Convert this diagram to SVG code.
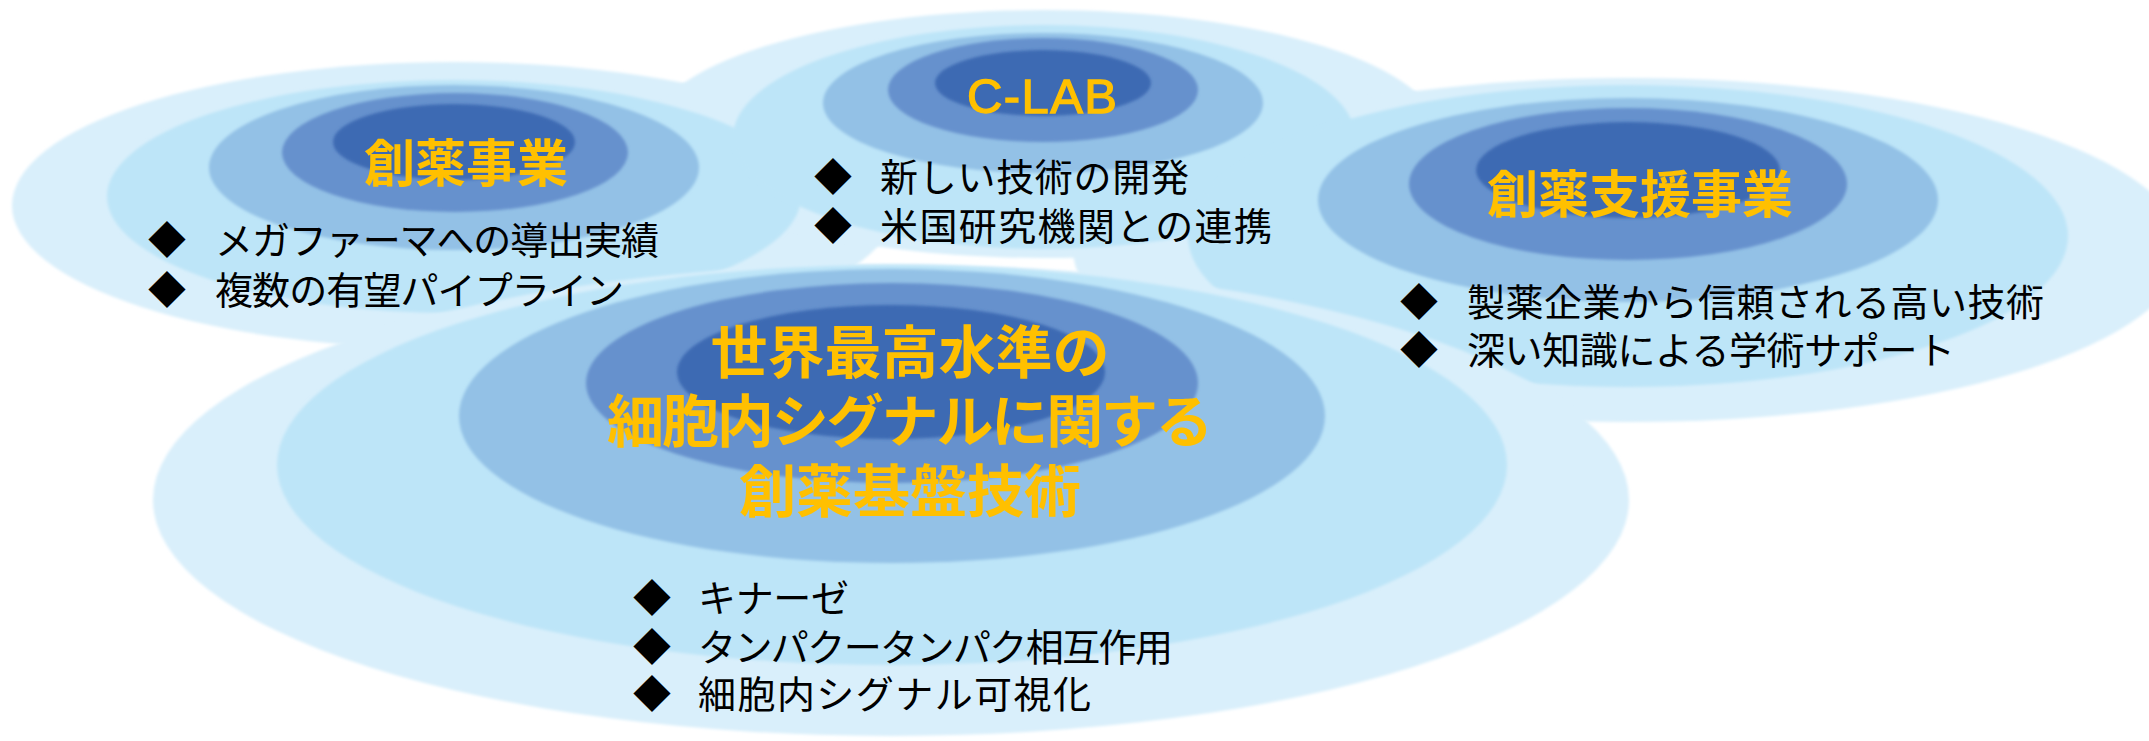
<svg xmlns="http://www.w3.org/2000/svg" width="2149" height="741" viewBox="0 0 2149 741">
<defs>
<filter id="soft" filterUnits="userSpaceOnUse" x="0" y="0" width="2149" height="741"><feGaussianBlur stdDeviation="1.6"/></filter>
</defs>
<style>
.l1{fill:#D9EFFB}.l2{fill:#BDE5F8}.l3{fill:#93C1E6}.l4{fill:#6691CD}.l5{fill:#3D6AB3}
ellipse{filter:url(#soft)}
.title{font-family:"Noto Sans CJK JP",sans-serif;font-weight:700;fill:#FFC000;text-anchor:middle}
.latin{font-family:"Liberation Sans",Arial,sans-serif;font-weight:400;fill:#FFC000;stroke:#FFC000;stroke-width:1.3px}
.item{font-family:"Noto Sans CJK JP",sans-serif;font-size:38px;fill:#000}
.dia{font-family:"Noto Sans CJK JP",sans-serif;font-size:38px;fill:#000;text-anchor:middle}
</style>
<rect width="2149" height="741" fill="#ffffff"/>
<g id="backdrop">
<ellipse class="l1" cx="454" cy="205.5" rx="442" ry="143.5"/>
<ellipse class="l1" cx="1044" cy="134" rx="395" ry="124"/>
<ellipse class="l1" cx="1628" cy="250" rx="555" ry="172"/>
<ellipse class="l2" cx="454" cy="196.5" rx="347" ry="116.5"/>
<ellipse class="l2" cx="1044" cy="137" rx="311" ry="112"/>
<ellipse class="l2" cx="1628" cy="236" rx="440" ry="151"/>
</g>
<g id="node-clab">
<ellipse class="l3" cx="1043" cy="103" rx="220" ry="70"/>
<ellipse class="l4" cx="1043" cy="90" rx="155" ry="52"/>
<ellipse class="l5" cx="1043" cy="83" rx="108" ry="33"/>
<text class="latin" x="967" y="113" font-size="49" textLength="150" lengthAdjust="spacing">C-LAB</text>
<text class="dia" x="833" y="191">◆</text>
<text class="item" x="880" y="191" textLength="309" lengthAdjust="spacing">新しい技術の開発</text>
<text class="dia" x="833" y="240">◆</text>
<text class="item" x="880" y="240" textLength="392" lengthAdjust="spacing">米国研究機関との連携</text>
</g>
<g id="node-core">
<ellipse class="l1" cx="891" cy="500" rx="738" ry="236"/>
<ellipse class="l2" cx="892" cy="465" rx="615" ry="200"/>
<ellipse class="l3" cx="892" cy="416" rx="433" ry="147"/>
<ellipse class="l4" cx="892" cy="383" rx="306" ry="100"/>
<ellipse class="l5" cx="891" cy="372" rx="214" ry="67"/>
<text class="title" x="910" y="373" font-size="57">世界最高水準の</text>
<text class="title" x="910" y="442" font-size="57" textLength="606" lengthAdjust="spacing">細胞内シグナルに関する</text>
<text class="title" x="910" y="512" font-size="57">創薬基盤技術</text>
<text class="dia" x="652" y="612">◆</text>
<text class="item" x="698" y="612" textLength="151" lengthAdjust="spacing">キナーゼ</text>
<text class="dia" x="652" y="661">◆</text>
<text class="item" x="698" y="661" textLength="475" lengthAdjust="spacing">タンパクータンパク相互作用</text>
<text class="dia" x="652" y="708">◆</text>
<text class="item" x="698" y="708" textLength="393" lengthAdjust="spacing">細胞内シグナル可視化</text>
</g>
<g id="node-soyaku">
<ellipse class="l3" cx="454" cy="167.5" rx="245" ry="82.5"/>
<ellipse class="l4" cx="455" cy="152.5" rx="173" ry="59.5"/>
<ellipse class="l5" cx="454" cy="142" rx="121" ry="38"/>
<text class="title" x="466" y="182" font-size="51">創薬事業</text>
<text class="dia" x="167" y="254">◆</text>
<text class="item" x="215" y="254" textLength="444" lengthAdjust="spacing">メガファーマへの導出実績</text>
<text class="dia" x="167" y="304">◆</text>
<text class="item" x="215" y="304" textLength="409" lengthAdjust="spacing">複数の有望パイプライン</text>
</g>
<g id="node-shien">
<ellipse class="l3" cx="1628" cy="200" rx="310" ry="102"/>
<ellipse class="l4" cx="1628" cy="184" rx="219" ry="76"/>
<ellipse class="l5" cx="1628" cy="170" rx="152" ry="48"/>
<text class="title" x="1640" y="213" font-size="51">創薬支援事業</text>
<text class="dia" x="1419" y="316">◆</text>
<text class="item" x="1467" y="316" textLength="577" lengthAdjust="spacing">製薬企業から信頼される高い技術</text>
<text class="dia" x="1419" y="364">◆</text>
<text class="item" x="1467" y="364" textLength="488" lengthAdjust="spacing">深い知識による学術サポート</text>
</g>
</svg>
